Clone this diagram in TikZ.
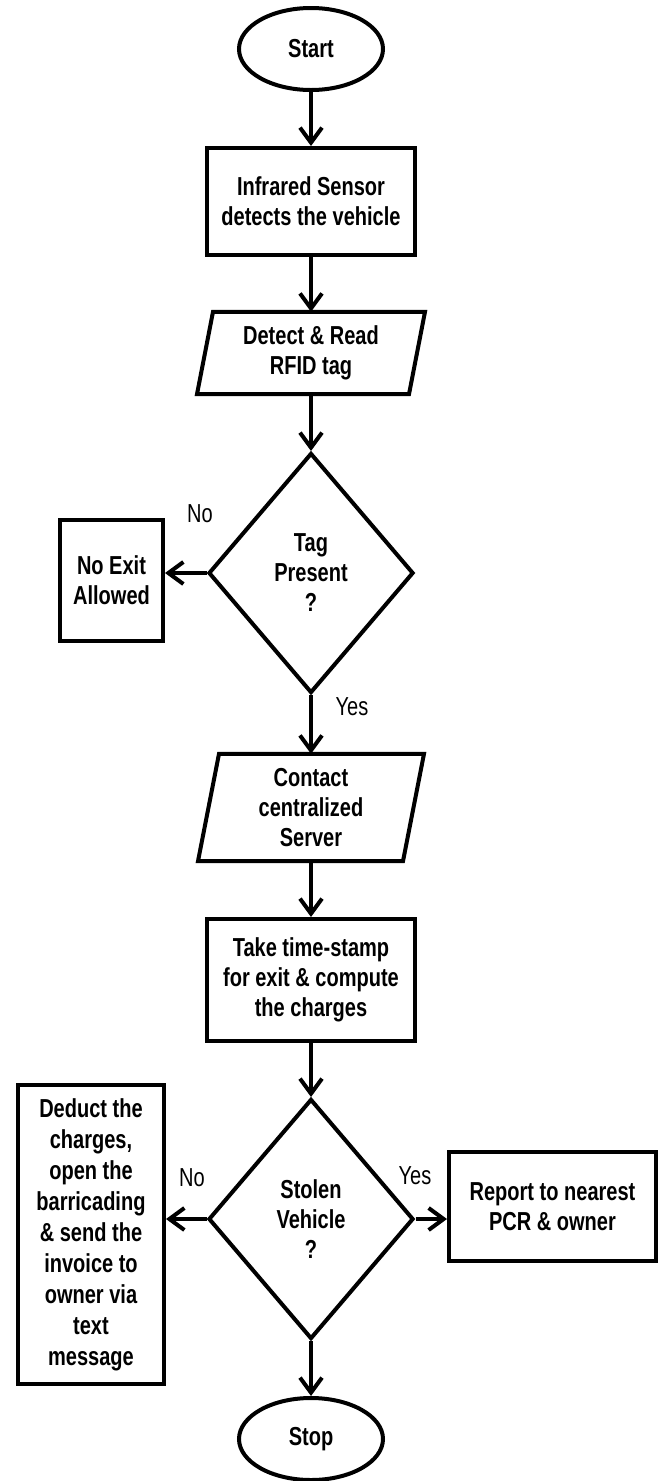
\documentclass[tikz,border=0pt]{standalone}
\usepackage{fontspec}
\setmainfont{Liberation Sans}[FakeStretch=0.77]
\usetikzlibrary{shapes.geometric,arrows.meta,calc}
\begin{document}
\begin{tikzpicture}[x=1pt,y=-1pt,
  every node/.style={font=\fontsize{26}{30}\selectfont\bfseries, align=center, inner sep=0pt},
  term/.style={draw, ellipse, line width=4pt, minimum width=144pt, minimum height=82pt},
  procbox/.style={draw, rectangle, line width=4pt},
  dec/.style={draw, diamond, line width=4pt, aspect=0.85, minimum width=205pt, minimum height=240pt},
  outline/.style={line width=4pt, line join=miter},
  arr/.style={line width=4pt, -{Straight Barb[length=15pt,width=22pt]}},
  lbl/.style={font=\fontsize{26}{30}\selectfont}]
\useasboundingbox (0,0) rectangle (664,1481);

\node[term] (start) at (311,49) {Start};
\node[procbox, minimum width=208pt, minimum height=107pt] (ir) at (311,201.5) {Infrared Sensor\\detects the vehicle};
\node[minimum width=214pt, minimum height=82pt] (rfid) at (311,353) {Detect \& Read\\RFID tag};
\draw[outline] ($(rfid.north)+(-98,0)$) -- ($(rfid.north)+(114,0)$) -- ($(rfid.south)+(98,0)$) -- ($(rfid.south)+(-114,0)$) -- cycle;
\node[dec] (tag) at (311,573) {Tag\\Present\\?};
\node[procbox, minimum width=103pt, minimum height=121pt] (noexit) at (111.5,580.5) {No Exit\\Allowed};
\node[minimum width=208pt, minimum height=107pt] (server) at (311,807.5) {Contact\\centralized\\Server};
\draw[outline] ($(server.north)+(-92,0)$) -- ($(server.north)+(113,0)$) -- ($(server.south)+(92,0)$) -- ($(server.south)+(-113,0)$) -- cycle;
\node[procbox, minimum width=208pt, minimum height=122pt] (stamp) at (311,980) {Take time-stamp\\for exit \& compute\\the charges};
\node[dec] (stolen) at (311,1219) {Stolen\\Vehicle\\?};
\node[procbox, minimum width=146pt, minimum height=299pt, font=\fontsize{26}{31}\selectfont\bfseries] (deduct) at (91,1234.5) {Deduct the\\charges,\\open the\\barricading\\\& send the\\invoice to\\owner via\\text\\message};
\node[procbox, minimum width=207pt, minimum height=109pt] (report) at (552.5,1206.5) {Report to nearest\\PCR \& owner};
\node[term] (stop) at (311,1439) {Stop};

\node[lbl] (no1) at (200,514) {No};
\node[lbl] (yes1) at (352,707) {Yes};
\node[lbl] (no2) at (192,1178) {No};
\node[lbl] (yes2) at (415,1176) {Yes};

\draw[arr] (start) -- (ir);
\draw[arr] (ir) -- (rfid.north);
\draw[arr] (rfid.south) -- (tag);
\draw[arr] (tag.west) -- (tag.west -| noexit.east);
\draw[arr] (tag) -- (server.north);
\draw[arr] (server.south) -- (stamp);
\draw[arr] (stamp) -- (stolen);
\draw[arr] (stolen.west) -- (stolen.west -| deduct.east);
\draw[arr] (stolen.east) -- (stolen.east -| report.west);
\draw[arr] (stolen) -- (stop);
\end{tikzpicture}
\end{document}
